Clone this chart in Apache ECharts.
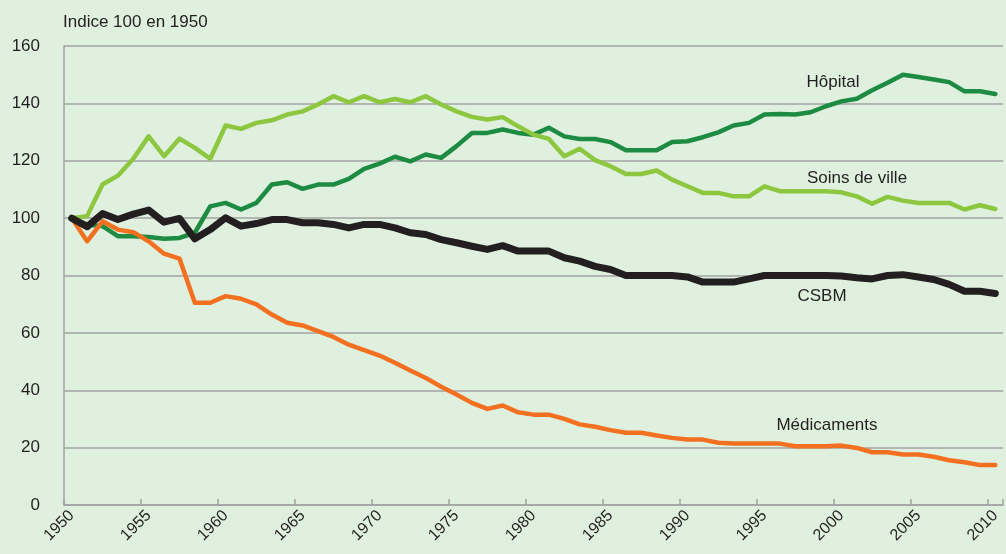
<!DOCTYPE html>
<html>
<head>
<meta charset="utf-8">
<script src="https://cdn.jsdelivr.net/npm/echarts@6/dist/echarts.min.js"></script>
<style>
  html, body { margin: 0; padding: 0; background: #DFF0DE; }
  #chart { width: 1006px; height: 554px; }
</style>
</head>
<body>
<div id="chart"></div>
<script>
const years = ['1950','1951','1952','1953','1954','1955','1956','1957','1958','1959',
  '1960','1961','1962','1963','1964','1965','1966','1967','1968','1969',
  '1970','1971','1972','1973','1974','1975','1976','1977','1978','1979',
  '1980','1981','1982','1983','1984','1985','1986','1987','1988','1989',
  '1990','1991','1992','1993','1994','1995','1996','1997','1998','1999',
  '2000','2001','2002','2003','2004','2005','2006','2007','2008','2009','2010'];

const hopital = [100, 97.8, 97.2, 93.7, 93.7, 93.4, 92.8, 93.1, 94.9, 104.1,
  105.3, 103.0, 105.3, 111.7, 112.5, 110.2, 111.7, 111.7, 113.7, 117.2,
  119.0, 121.4, 119.8, 122.2, 121.0, 125.1, 129.7, 129.7, 130.9, 129.7,
  129.1, 131.5, 128.5, 127.6, 127.6, 126.5, 123.7, 123.7, 123.7, 126.5,
  126.8, 128.2, 129.9, 132.3, 133.2, 136.1, 136.3, 136.1, 136.9, 139.0,
  140.7, 141.6, 144.6, 147.2, 150.0, 149.2, 148.3, 147.4, 144.2, 144.2, 143.3];

const soinsDeVille = [100, 100.7, 111.7, 114.8, 120.7, 128.5, 121.6, 127.7, 124.5, 120.7,
  132.3, 131.1, 133.2, 134.1, 136.1, 137.2, 139.6, 142.5, 140.4, 142.5,
  140.4, 141.5, 140.4, 142.5, 139.6, 137.2, 135.3, 134.4, 135.2, 132.0,
  129.1, 127.6, 121.6, 124.2, 120.2, 118.1, 115.4, 115.4, 116.6, 113.4,
  111.1, 108.8, 108.8, 107.6, 107.6, 111.1, 109.4, 109.4, 109.4, 109.4,
  109.0, 107.6, 105.0, 107.4, 106.1, 105.3, 105.3, 105.3, 103.0, 104.5, 103.2];

const medicaments = [100, 91.9, 98.9, 96.0, 95.1, 91.9, 87.6, 85.9, 70.5, 70.5,
  72.8, 71.9, 69.9, 66.4, 63.5, 62.6, 60.6, 58.6, 55.9, 54.0,
  52.1, 49.6, 46.9, 44.3, 41.2, 38.5, 35.6, 33.5, 34.7, 32.3,
  31.5, 31.5, 30.0, 28.1, 27.3, 26.1, 25.2, 25.2, 24.2, 23.4,
  22.8, 22.8, 21.7, 21.4, 21.4, 21.4, 21.4, 20.5, 20.5, 20.5,
  20.7, 19.9, 18.4, 18.4, 17.6, 17.6, 16.8, 15.6, 14.9, 13.9, 13.9];

const csbm = [100, 97.0, 101.6, 99.5, 101.4, 102.8, 98.6, 99.9, 92.8, 96.0,
  100.1, 97.2, 98.1, 99.5, 99.5, 98.4, 98.4, 97.8, 96.6, 97.8,
  97.8, 96.6, 94.9, 94.3, 92.5, 91.4, 90.2, 89.1, 90.4, 88.5,
  88.5, 88.5, 86.2, 85.0, 83.2, 82.1, 80.0, 80.0, 80.0, 80.0,
  79.5, 77.7, 77.7, 77.7, 78.8, 80.0, 80.0, 80.0, 80.0, 80.0,
  79.8, 79.2, 78.8, 80.0, 80.3, 79.5, 78.6, 76.9, 74.5, 74.5, 73.7];

const seriesNames = ['Hôpital', 'Soins de ville', 'Médicaments', 'CSBM'];
const yTitle = 'Indice 100 en 1950';

const FONT = "'Liberation Sans', Arial, Helvetica, sans-serif";
const TXT = '#231F20';
const GRIDC = '#A3A3A3';

const chart = echarts.init(document.getElementById('chart'), null, { renderer: 'canvas' });

function line(name, data, color, width) {
  return {
    name: name, type: 'line', data: data, symbol: 'none', silent: true,
    lineStyle: { color: color, width: width, cap: 'round', join: 'round' },
    animation: false
  };
}

function label(text, x, y) {
  return {
    type: 'text', x: x, y: y, silent: true,
    style: { text: text, fill: TXT, font: '17px ' + FONT, textAlign: 'center', textVerticalAlign: 'middle' }
  };
}

chart.setOption({
  backgroundColor: '#DFF0DE',
  animation: false,
  textStyle: { fontFamily: FONT },
  title: {
    text: yTitle, left: 63, top: 14, padding: 0,
    textStyle: { fontSize: 17, fontWeight: 'normal', color: TXT, fontFamily: FONT }
  },
  grid: { left: 64, right: 3, top: 46, bottom: 49, containLabel: false },
  xAxis: {
    type: 'category', data: years, boundaryGap: true,
    axisLine: { show: true, lineStyle: { color: GRIDC, width: 1.5 } },
    axisTick: { show: true, interval: 4, inside: true, length: 6, lineStyle: { color: GRIDC, width: 1.5 } },
    axisLabel: { interval: 4, rotate: 45, fontSize: 16, color: TXT, margin: 8, fontFamily: FONT },
    splitLine: { show: false }
  },
  yAxis: {
    type: 'value', min: 0, max: 160, interval: 20,
    axisLine: { show: true, lineStyle: { color: GRIDC, width: 1.5 } },
    axisTick: { show: false },
    axisLabel: { fontSize: 17, color: TXT, margin: 24, fontFamily: FONT },
    splitLine: { show: true, lineStyle: { color: GRIDC, width: 1.5 } }
  },
  series: [
    line(seriesNames[0], hopital, '#1E8B43', 4.5),
    line(seriesNames[1], soinsDeVille, '#8DC63F', 4.5),
    line(seriesNames[2], medicaments, '#F37021', 4.5),
    line(seriesNames[3], csbm, '#231F20', 7)
  ],
  graphic: [
    label(seriesNames[0], 833, 82),
    label(seriesNames[1], 857, 178),
    label(seriesNames[3], 822, 296),
    label(seriesNames[2], 827, 425)
  ]
});
</script>
</body>
</html>
